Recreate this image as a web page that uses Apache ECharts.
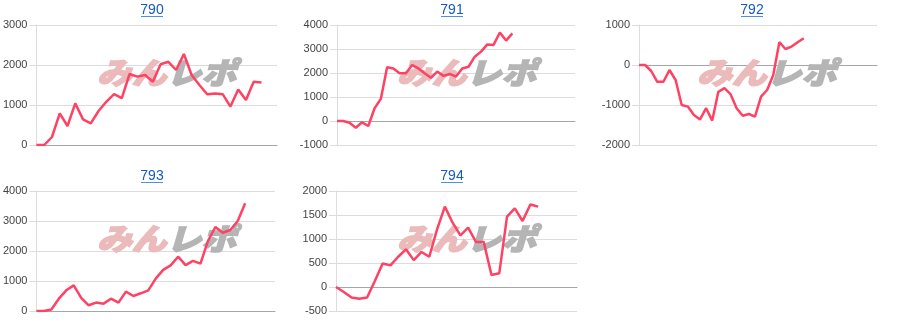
<!DOCTYPE html>
<html>
<head>
<meta charset="utf-8">
<script src="https://cdn.jsdelivr.net/npm/echarts@6/dist/echarts.min.js"></script>
<style>
html,body{margin:0;padding:0;background:#fff;}
#c{width:900px;height:332px;}
</style>
</head>
<body>
<div id="c"></div>
<script>
// Chart titles
var titles = ['790', '791', '792', '793', '794'];
// Series values (cumulative difference per data point)
var d790 = [0,0,200,790,475,1040,640,540,850,1080,1270,1170,1775,1710,1750,1580,2020,2080,1875,2275,1750,1500,1270,1290,1270,960,1390,1125,1580,1560];
var d791 = [0,0,-70,-280,-55,-210,530,920,2240,2190,1990,1990,2330,2190,1990,1800,2060,1880,1960,1850,2190,2260,2680,2890,3190,3170,3690,3350,3650];
var d792 = [0,0,-150,-420,-420,-125,-375,-1000,-1040,-1250,-1360,-1080,-1390,-670,-580,-730,-1080,-1270,-1225,-1290,-790,-625,-250,570,400,460,570,670];
var d793 = [0,0,50,410,690,855,440,190,280,245,410,280,645,500,590,690,1080,1370,1520,1810,1530,1670,1580,2330,2800,2610,2700,3000,3590];
var d794 = [0,-105,-220,-245,-220,125,490,450,630,785,560,730,630,1200,1675,1340,1075,1235,940,940,250,285,1465,1640,1375,1720,1675];
// x-axis category counts per chart (axis span)
var axisCounts = [32, 39, 40, 33, 32];
// y-axis ranges
var yMins = [0, -1000, -2000, 0, -500];
var yMaxs = [3000, 4000, 1000, 4000, 2000];
var yIntervals = [1000, 1000, 1000, 1000, 500];

var seriesData = [d790, d791, d792, d793, d794];

// layout
var grids = [
  {left: 35, top: 25, width: 242, height: 120},
  {left: 337, top: 25, width: 238, height: 120},
  {left: 639, top: 25, width: 238, height: 120},
  {left: 34, top: 191, width: 241, height: 120},
  {left: 336, top: 191, width: 241, height: 120}
];
var panelX = [0, 300, 600, 0, 300];
var panelY = [0, 0, 0, 166, 166];

var FONT = '"Liberation Sans", Arial, sans-serif';
var LINK = '#1558c8';

var option = {
  animation: false,
  backgroundColor: '#fff',
  title: [], grid: [], xAxis: [], yAxis: [], series: [], graphic: []
};

for (var i = 0; i < 5; i++) {
  var cx = panelX[i] + 152;
  option.title.push({
    text: titles[i], left: cx, top: panelY[i] + 3, textAlign: 'center', padding: 0,
    textStyle: {fontSize: 14, fontWeight: 'normal', color: LINK, fontFamily: FONT}
  });
  option.graphic.push({
    type: 'line', z: 5,
    shape: {x1: cx - 11, y1: panelY[i] + 16.5, x2: cx + 11, y2: panelY[i] + 16.5},
    style: {stroke: '#4f8fdc', lineWidth: 1}
  });
  option.graphic.push({
    type: 'text', z: 1, x: panelX[i] + 97, y: panelY[i] + 58, scaleX: 1.16, scaleY: 1,
    style: {
      text: '{a|みん}{b|レポ}',
      rich: {
        a: {fontSize: 30, fontWeight: 900, fontStyle: 'italic', fill: '#ebbaba', fontFamily: '"Noto Sans CJK JP"',
            stroke: '#ebbaba', lineWidth: 1.5},
        b: {fontSize: 30, fontWeight: 900, fontStyle: 'italic', fill: '#b5b5b5', fontFamily: '"Noto Sans CJK JP"',
            stroke: '#b5b5b5', lineWidth: 1.5}
      }
    }
  });
  option.grid.push(grids[i]);
  var cats = [];
  for (var k = 0; k < axisCounts[i]; k++) cats.push(String(k + 1));
  option.xAxis.push({
    type: 'category', gridIndex: i, data: cats, boundaryGap: false,
    axisLabel: {show: false}, axisTick: {show: false},
    axisLine: {show: true, onZero: true, lineStyle: {color: '#a6a6a6', width: 1}},
    splitLine: {show: false}
  });
  option.yAxis.push({
    type: 'value', gridIndex: i, min: yMins[i], max: yMaxs[i], interval: yIntervals[i],
    axisLine: {show: true, lineStyle: {color: '#dcdcdc'}},
    axisTick: {show: true, length: 7, lineStyle: {color: '#dcdcdc'}},
    axisLabel: {color: '#444', fontSize: 11, fontFamily: FONT, margin: 9,
      formatter: function (v) { return String(v); }},
    splitLine: {show: true, lineStyle: {color: '#dcdcdc', width: 1}}
  });
  option.series.push({
    type: 'line', xAxisIndex: i, yAxisIndex: i, data: seriesData[i],
    showSymbol: false, symbol: 'none', z: 3,
    lineStyle: {color: '#ff4263', width: 2.5},
    itemStyle: {color: '#ff4263'}
  });
}

var chart = echarts.init(document.getElementById('c'), null, {renderer: 'canvas'});
chart.setOption(option);
</script>
</body>
</html>
